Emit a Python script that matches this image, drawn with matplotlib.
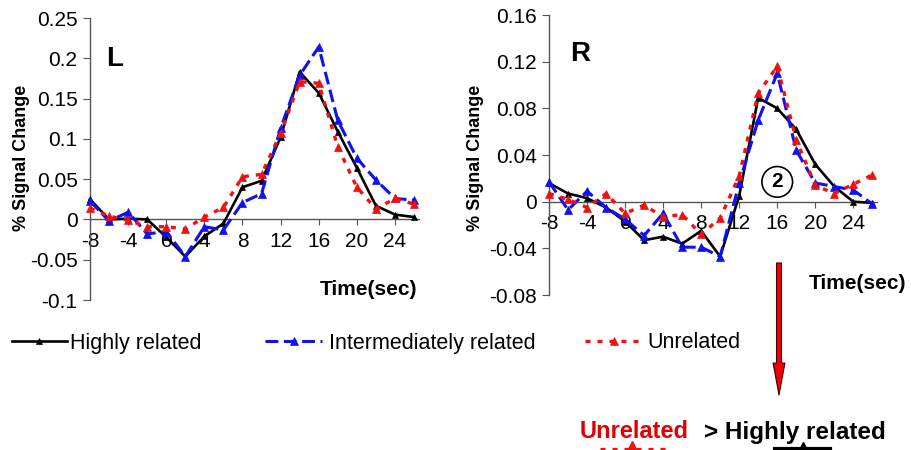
import matplotlib
matplotlib.use('Agg')
import matplotlib.pyplot as plt
from matplotlib.lines import Line2D
from matplotlib.patches import FancyArrowPatch, ArrowStyle

plt.rcParams['font.family'] = ['Liberation Sans', 'DejaVu Sans']
plt.rcParams['axes.unicode_minus'] = False

# time points (sec)
time_sec = [-8, -6, -4, -2, 0, 2, 4, 6, 8, 10, 12, 14, 16, 18, 20, 22, 24, 26]

# left hemisphere (L)
left_highly = [0.025, 0.0, 0.001, 0.0, -0.022, -0.046, -0.021, -0.005, 0.040, 0.048,
               0.102, 0.183, 0.157, 0.109, 0.064, 0.017, 0.006, 0.003]
left_inter = [0.023, -0.002, 0.009, -0.018, -0.015, -0.046, -0.009, -0.013, 0.021, 0.032,
              0.113, 0.179, 0.214, 0.123, 0.076, 0.049, 0.026, 0.024]
left_unrel = [0.014, 0.004, -0.001, -0.009, -0.009, -0.012, 0.003, 0.015, 0.053, 0.056,
              0.107, 0.171, 0.169, 0.090, 0.040, 0.013, 0.026, 0.019]

# right hemisphere (R)
right_highly = [0.016, 0.007, 0.003, -0.005, -0.017, -0.033, -0.030, -0.036, -0.025, -0.047,
                0.005, 0.089, 0.080, 0.062, 0.032, 0.013, 0.0, -0.001]
right_inter = [0.017, -0.007, 0.009, -0.005, -0.015, -0.029, -0.010, -0.039, -0.039, -0.047,
               0.016, 0.070, 0.110, 0.044, 0.016, 0.013, 0.010, -0.002]
right_unrel = [0.007, 0.002, -0.005, 0.007, -0.010, -0.003, -0.013, -0.011, -0.028, -0.014,
               0.022, 0.093, 0.116, 0.053, 0.014, 0.007, 0.015, 0.023]

x_ticks = [-8, -4, 0, 4, 8, 12, 16, 20, 24]
left_yticks = [-0.1, -0.05, 0, 0.05, 0.1, 0.15, 0.2, 0.25]
left_ylabels = ['-0.1', '-0.05', '0', '0.05', '0.1', '0.15', '0.2', '0.25']
right_yticks = [-0.08, -0.04, 0, 0.04, 0.08, 0.12, 0.16]
right_ylabels = ['-0.08', '-0.04', '0', '0.04', '0.08', '0.12', '0.16']

series_names = ['Highly related', 'Intermediately related', 'Unrelated']

BLACK = '#000000'
BLUE = '#1010f0'
RED = '#f01010'

styles = [
    dict(color=BLACK, lw=1.9, ls='-', marker='^', ms=4.8),
    dict(color=BLUE, lw=2.2, ls=(0, (4.2, 1.8)), marker='^', ms=6.3),
    dict(color=RED, lw=2.4, ls=(0, (1.5, 2.1)), marker='^', ms=6.3),
]

fig = plt.figure(figsize=(9.12, 4.5), dpi=100)
ax_l = fig.add_axes([0.0987, 0.3333, 0.3605, 0.6267])
ax_r = fig.add_axes([0.6020, 0.3444, 0.3597, 0.6222])


def style_axes(ax, yticks, ylabels, ylim):
    ax.set_xlim(-8, 26.5)
    ax.set_ylim(*ylim)
    for s in ['top', 'right']:
        ax.spines[s].set_visible(False)
    ax.spines['bottom'].set_position(('data', 0))
    ax.spines['bottom'].set_color('#555555')
    ax.spines['left'].set_color('#555555')
    ax.spines['bottom'].set_linewidth(1.0)
    ax.spines['left'].set_linewidth(1.0)
    ax.set_xticks(x_ticks)
    ax.set_xticklabels([str(t) for t in x_ticks])
    ax.set_yticks(yticks)
    ax.set_yticklabels(ylabels)
    ax.tick_params(axis='x', direction='out', length=4, width=0.8, color='#555555',
                   labelsize=15, pad=5)
    ax.tick_params(axis='y', direction='out', length=5, width=0.8, color='#555555',
                   labelsize=15, pad=4)
    ax.patch.set_alpha(0)


lines = []
for ax, data in [(ax_l, [left_highly, left_inter, left_unrel]),
                 (ax_r, [right_highly, right_inter, right_unrel])]:
    for vals, st, name in zip(data, styles, series_names):
        ln, = ax.plot(time_sec, vals, label=name, zorder=3, clip_on=False,
                      markeredgewidth=0.5, **st)
        if ax is ax_l:
            lines.append(ln)

style_axes(ax_l, left_yticks, left_ylabels, (-0.1, 0.25))
style_axes(ax_r, right_yticks, right_ylabels, (-0.08, 0.16))

# panel letters and the circled marker
ax_l.text(-5.4, 0.199, 'L', fontsize=20, fontweight='bold', ha='center', va='center')
ax_r.text(-4.75, 0.1265, 'R', fontsize=20, fontweight='bold', ha='center', va='center')
ax_r.text(16, 0.017, '2', fontsize=15, fontweight='bold', ha='center', va='center',
          bbox=dict(boxstyle='circle,pad=0.28', fc='white', ec='black', lw=1.2), zorder=4)

# axis titles
fig.text(0.0241, 0.649, '% Signal Change', rotation=90, fontsize=13, fontweight='bold',
         ha='center', va='center')
fig.text(0.521, 0.649, '% Signal Change', rotation=90, fontsize=13, fontweight='bold',
         ha='center', va='center')
fig.text(0.4046, 0.3556, 'Time(sec)', fontsize=15, fontweight='bold', ha='center', va='center')
fig.text(0.9397, 0.371, 'Time(sec)', fontsize=15, fontweight='bold', ha='center', va='center')

# legend entries, one per series
legend_pos = [(12 / 912, 2.55, 0.15), (265 / 912, 2.65, 0.33), (585 / 912, 2.65, 0.25)]
for ln, (xpos, hl, tp) in zip(lines, legend_pos):
    fig.legend(handles=[ln], loc='center left', bbox_to_anchor=(xpos, 1 - 343 / 450),
               frameon=False, fontsize=15.5, handlelength=hl, handletextpad=tp,
               borderpad=0, borderaxespad=0, numpoints=1)

# red arrow
arrow = FancyArrowPatch((779 / 912, 1 - 263 / 450), (779 / 912, 1 - 395 / 450),
                        transform=fig.transFigure,
                        arrowstyle=ArrowStyle.Simple(head_length=2.3, head_width=0.85,
                                                     tail_width=0.36),
                        mutation_scale=10, fc='#ee0000', ec='#400000', lw=0.8,
                        shrinkA=0, shrinkB=0)
fig.add_artist(arrow)

# bottom comparison text
fig.text(580 / 912, 1 - 432 / 450, 'Unrelated', color='#e00000', fontsize=17,
         fontweight='bold', ha='left', va='center')
fig.text(704 / 912, 1 - 432 / 450, '> Highly related', color='black', fontsize=17.5,
         fontweight='bold', ha='left', va='center')

# cut-off legend symbols at the very bottom
yb = 1 - 449 / 450
fig.add_artist(Line2D([600 / 912, 665 / 912], [yb, yb], transform=fig.transFigure,
                      color=RED, lw=2.4, ls=(0, (1.5, 2.1))))
fig.add_artist(Line2D([632 / 912], [1 - 445 / 450], transform=fig.transFigure,
                      color=RED, marker='^', ms=6, ls='none'))
fig.add_artist(Line2D([775 / 912, 830 / 912], [yb, yb], transform=fig.transFigure,
                      color=BLACK, lw=3))
fig.add_artist(Line2D([803 / 912], [1 - 445 / 450], transform=fig.transFigure,
                      color=BLACK, marker='^', ms=5, ls='none'))

fig.savefig('out.png', dpi=100)
